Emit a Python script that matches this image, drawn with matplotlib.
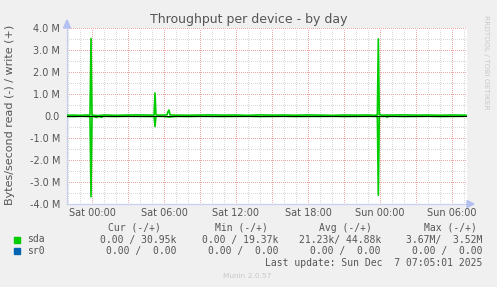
import matplotlib
matplotlib.use("Agg")
import matplotlib.pyplot as plt
from matplotlib.ticker import FixedLocator

# ---------------- data (hours relative to Sat 00:00, bytes/second) -------------
write_t = [-2.08, -1.5, -1.0, -0.5, -0.25, -0.167, -0.083, 0.0, 0.083, 0.5, 1.0,
           1.5, 2.0, 3.0, 4.0, 5.0, 5.17, 5.25, 5.33, 5.42, 6.0, 6.25, 6.33, 6.42,
           6.5, 7.0, 8.0, 9.0, 10.0, 11.0, 12.0, 13.0, 14.0, 15.0, 16.0, 17.0,
           18.0, 19.0, 20.0, 21.0, 22.0, 23.0, 23.5, 23.7, 23.78, 23.86, 23.94,
           24.0, 24.1, 25.0, 26.0, 27.0, 28.0, 29.0, 30.0, 31.0, 31.25]
write_v = [35e3, 40e3, 30e3, 45e3, 38e3, 40e3, 3.52e6, 40e3, 35e3, 20e3, 45e3,
           40e3, 30e3, 45e3, 50e3, 40e3, 45e3, 1.05e6, 60e3, 40e3, 45e3, 50e3,
           0.20e6, 0.27e6, 45e3, 40e3, 35e3, 45e3, 50e3, 40e3, 45e3, 30e3,
           50e3, 40e3, 45e3, 35e3, 50e3, 40e3, 30e3, 45e3, 40e3, 45e3, 35e3,
           40e3, 45e3, 3.50e6, 60e3, 80e3, 40e3, 45e3, 50e3, 40e3, 45e3, 35e3,
           45e3, 40e3, 30.95e3]

read_t = [-2.08, -1.5, -1.0, -0.5, -0.25, -0.167, -0.083, 0.0, 0.083, 0.4, 0.5,
          0.83, 0.92, 1.5, 2.0, 3.0, 4.0, 5.0, 5.17, 5.25, 5.33, 5.42, 6.0,
          6.42, 7.0, 8.0, 9.0, 10.0, 11.0, 12.0, 13.0, 14.0, 15.0, 16.0, 17.0,
          18.0, 19.0, 20.0, 21.0, 22.0, 23.0, 23.7, 23.78, 23.86, 23.94, 24.5,
          24.6, 24.7, 25.0, 26.0, 27.0, 28.0, 29.0, 30.0, 31.0, 31.25]
read_v = [20e3, 25e3, 15e3, 20e3, 25e3, 20e3, 3.67e6, 20e3, 15e3, 70e3, 20e3,
          60e3, 15e3, 20e3, 25e3, 15e3, 20e3, 25e3, 20e3, 0.48e6, 20e3, 15e3,
          20e3, 50e3, 20e3, 25e3, 15e3, 20e3, 25e3, 20e3, 15e3, 25e3, 20e3,
          15e3, 25e3, 20e3, 20e3, 15e3, 25e3, 20e3, 15e3, 20e3, 25e3, 3.60e6,
          20e3, 20e3, 60e3, 20e3, 15e3, 25e3, 20e3, 15e3, 25e3, 20e3, 15e3, 0.0]

x_ticks = [0, 6, 12, 18, 24, 30]
x_labels = ["Sat 00:00", "Sat 06:00", "Sat 12:00", "Sat 18:00", "Sun 00:00", "Sun 06:00"]
y_ticks = [-4e6, -3e6, -2e6, -1e6, 0, 1e6, 2e6, 3e6, 4e6]
y_labels = ["-4.0 M", "-3.0 M", "-2.0 M", "-1.0 M", "0.0", "1.0 M", "2.0 M", "3.0 M", "4.0 M"]

legend_names = ["sda", "sr0"]
legend_colors = ["#00CC00", "#0066B3"]
cur_vals = ["0.00 / 30.95k", "0.00 /  0.00"]
min_vals = ["0.00 / 19.37k", "0.00 /  0.00"]
avg_vals = ["21.23k/ 44.88k", "0.00 /  0.00"]
max_vals = ["3.67M/  3.52M", "0.00 /  0.00"]

# ---------------- figure ----------------
W, H = 497, 287
fig = plt.figure(figsize=(W / 100, H / 100), dpi=100, facecolor="#F0F0F0")

def fx(px):
    return px / W

def fy(py):
    return 1 - py / H

ax = fig.add_axes([fx(67), fy(204), fx(467) - fx(67), fy(28) - fy(204)])
ax.set_facecolor("white")
ax.set_xlim(-2.0833, 31.25)
ax.set_ylim(-4e6, 4e6)

grey = "#555555"
minor_c = "#d8d8d8"
major_c = "#f0a8a8"
dot = (0, (1, 2))

# grid
gkw = dict(lw=0.72, ls=dot, zorder=1, antialiased=False)
for h in range(-2, 32):
    if h % 3 != 0:
        ax.axvline(h, color=minor_c, **gkw)
for h in range(0, 32, 3):
    ax.axvline(h, color=major_c, **gkw)
for v in [-3.5e6, -2.5e6, -1.5e6, -0.5e6, 0.5e6, 1.5e6, 2.5e6, 3.5e6]:
    ax.axhline(v, color=minor_c, **gkw)
for v in y_ticks:
    ax.axhline(v, color=major_c, **gkw)

# data
ax.plot(write_t, write_v, color=legend_colors[0], lw=1.2, zorder=3)
ax.plot(read_t, [-v for v in read_v], color=legend_colors[0], lw=1.2, zorder=3)
ax.axhline(0, color="black", lw=0.7, zorder=4)

# axes styling
for s in ["top", "right"]:
    ax.spines[s].set_visible(False)
for s in ["left", "bottom"]:
    ax.spines[s].set_color("#c8d0f0")
    ax.spines[s].set_linewidth(0.9)
ax.xaxis.set_major_locator(FixedLocator(x_ticks))
ax.set_xticklabels(x_labels)
ax.yaxis.set_major_locator(FixedLocator(y_ticks))
ax.set_yticklabels(y_labels)
ax.tick_params(length=0, labelsize=7, labelcolor=grey)
ax.tick_params(axis="y", pad=5)
ax.tick_params(axis="x", pad=3)

# arrows
fig.patches.append(plt.Polygon([[fx(63.5), fy(28)], [fx(70.5), fy(28)], [fx(67), fy(20)]],
                               closed=True, color="#b4c0f0", transform=fig.transFigure))
fig.patches.append(plt.Polygon([[fx(467), fy(200.5)], [fx(467), fy(207.5)], [fx(474), fy(204)]],
                               closed=True, color="#b4c0f0", transform=fig.transFigure))

# texts
fig.text(fx(248.5), fy(19), "Throughput per device - by day", ha="center", va="center",
         fontsize=9, color=grey)
fig.text(fx(10), fy(115), "Bytes/second read (-) / write (+)", rotation=90,
         ha="center", va="center", fontsize=8, color=grey)
fig.text(fx(486), fy(15), "RRDTOOL / TOBI OETIKER", rotation=270, ha="center", va="top",
         fontsize=5.3, color="#c8c8c8")

mono = "DejaVu Sans Mono"
fs = 7
hy = 228
fig.text(fx(134), fy(hy), "Cur (-/+)", ha="center", va="center", family=mono, fontsize=fs, color=grey)
fig.text(fx(241), fy(hy), "Min (-/+)", ha="center", va="center", family=mono, fontsize=fs, color=grey)
fig.text(fx(345), fy(hy), "Avg (-/+)", ha="center", va="center", family=mono, fontsize=fs, color=grey)
fig.text(fx(450), fy(hy), "Max (-/+)", ha="center", va="center", family=mono, fontsize=fs, color=grey)

rows_y = [239.5, 251]
for i, ry in enumerate(rows_y):
    fig.patches.append(plt.Rectangle((fx(14), fy(ry + 3)), fx(6), fy(ry - 3) - fy(ry + 3),
                                     color=legend_colors[i], transform=fig.transFigure))
    fig.text(fx(27), fy(ry), legend_names[i], ha="left", va="center", family=mono, fontsize=fs, color=grey)
    fig.text(fx(176), fy(ry), cur_vals[i], ha="right", va="center", family=mono, fontsize=fs, color=grey)
    fig.text(fx(278), fy(ry), min_vals[i], ha="right", va="center", family=mono, fontsize=fs, color=grey)
    fig.text(fx(381), fy(ry), avg_vals[i], ha="right", va="center", family=mono, fontsize=fs, color=grey)
    fig.text(fx(482), fy(ry), max_vals[i], ha="right", va="center", family=mono, fontsize=fs, color=grey)

fig.text(fx(482), fy(263), "Last update: Sun Dec  7 07:05:01 2025", ha="right", va="center",
         family=mono, fontsize=fs, color=grey)
fig.text(fx(247), fy(275.5), "Munin 2.0.57", ha="center", va="center", fontsize=5.3, color="#c8c8c8")

fig.savefig("out.png", dpi=100, facecolor=fig.get_facecolor())
